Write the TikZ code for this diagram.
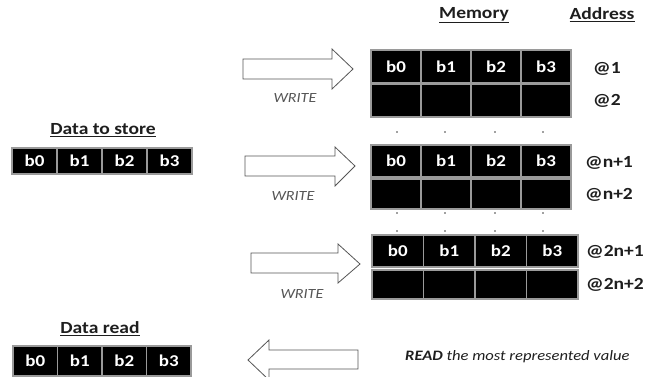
\documentclass[tikz,border=0pt]{standalone}
\usepackage{fontspec}
\setmainfont{Carlito}[FakeStretch=1.15]
\definecolor{ink}{HTML}{1E1E1E}
\definecolor{edge}{HTML}{9A9A9A}
\definecolor{arr}{HTML}{555555}
\begin{document}
\begin{tikzpicture}[x=1pt,y=-1pt,
  cell/.style={draw=edge,line width=1.2pt,fill=black,text=white,font=\bfseries\fontsize{16.5}{16.5}\selectfont,inner sep=0pt},
  title/.style={text=ink,font=\bfseries\fontsize{17}{17}\selectfont,inner sep=0pt},
  addr/.style={text=ink,font=\bfseries\fontsize{17}{17}\selectfont,inner sep=0pt,anchor=west},
  wlabel/.style={text=arr,font=\itshape\fontsize{14}{14}\selectfont,inner sep=0pt},
  blockarrow/.style={draw=arr,line width=0.8pt,fill=white},
  dot/.style={fill=black!75}]
\useasboundingbox (0,0) rectangle (646,376);

% titles
\node[title] (tmem) at (474,15) {\underline{Memory}};
\node[title] (tadr) at (602,15) {\underline{Address}};
\node[title] (tstore) at (103,130) {\underline{Data to store}};
\node[title] (tread) at (100,329) {\underline{Data read}};

% data to store
\foreach \i/\t in {0/b0,1/b1,2/b2,3/b3}
  \node[cell,minimum width=45pt,minimum height=26pt] (s\i) at (34.5+45*\i,161) {\t};
% data read
\foreach \i/\t in {0/b0,1/b1,2/b2,3/b3}
  \node[cell,minimum width=44.5pt,minimum height=30pt] (d\i) at (35.25+44.5*\i,361) {\t};

% memory block 1
\foreach \i/\t in {0/b0,1/b1,2/b2,3/b3}
  \node[cell,minimum width=50pt,minimum height=33pt] (a\i) at (396+50*\i,66.5) {\t};
\foreach \i in {0,...,3}
  \node[cell,minimum width=50pt,minimum height=33pt] (b\i) at (396+50*\i,100.5) {};
\node[addr] (ad1) at (593,69) {@1};
\node[addr] (ad2) at (593,101) {@2};

% memory block 2
\foreach \i/\t in {0/b0,1/b1,2/b2,3/b3}
  \node[cell,minimum width=50pt,minimum height=32pt] (c\i) at (396+50*\i,161) {\t};
\foreach \i in {0,...,3}
  \node[cell,minimum width=50pt,minimum height=30pt] (e\i) at (396+50*\i,194) {};
\node[addr] (ad3) at (585,163) {@n+1};
\node[addr] (ad4) at (585,195) {@n+2};

% memory block 3
\foreach \i/\t in {0/b0,1/b1,2/b2,3/b3}
  \node[cell,minimum width=51.5pt,minimum height=32pt] (f\i) at (397.75+51.5*\i,251) {\t};
\foreach \i in {0,...,3}
  \node[cell,minimum width=51.5pt,minimum height=29pt] (g\i) at (397.75+51.5*\i,284.5) {};
\node[addr] (ad5) at (586,252) {@2n+1};
\node[addr] (ad6) at (586,285) {@2n+2};

% dots
\foreach \x in {397,445,495,543} {
  \fill[dot] (\x,132) circle (0.9);
  \fill[dot] (\x,213) circle (0.9);
  \fill[dot] (\x,231) circle (0.9);
}

% write arrows
\draw[blockarrow] (243,59) -- (332,59) -- (332,49) -- (353,69) -- (332,89) -- (332,79) -- (243,79) -- cycle;
\draw[blockarrow] (245,156) -- (335,156) -- (335,147) -- (355,166) -- (335,186) -- (335,176) -- (245,176) -- cycle;
\draw[blockarrow] (251,253) -- (338,253) -- (338,244) -- (360,264) -- (338,283) -- (338,273) -- (251,273) -- cycle;
\node[wlabel] (w1) at (295,98) {WRITE};
\node[wlabel] (w2) at (293,196) {WRITE};
\node[wlabel] (w3) at (302,294) {WRITE};

% read arrow
\draw[blockarrow] (358,350) -- (269,350) -- (269,340) -- (248,360) -- (269,380) -- (269,369) -- (358,369) -- cycle;
\node[text=ink,font=\itshape\fontsize{14.4}{14.4}\selectfont,inner sep=0pt,anchor=west] (rd) at (405,357) {\textbf{READ} the most represented value};
\end{tikzpicture}
\end{document}
